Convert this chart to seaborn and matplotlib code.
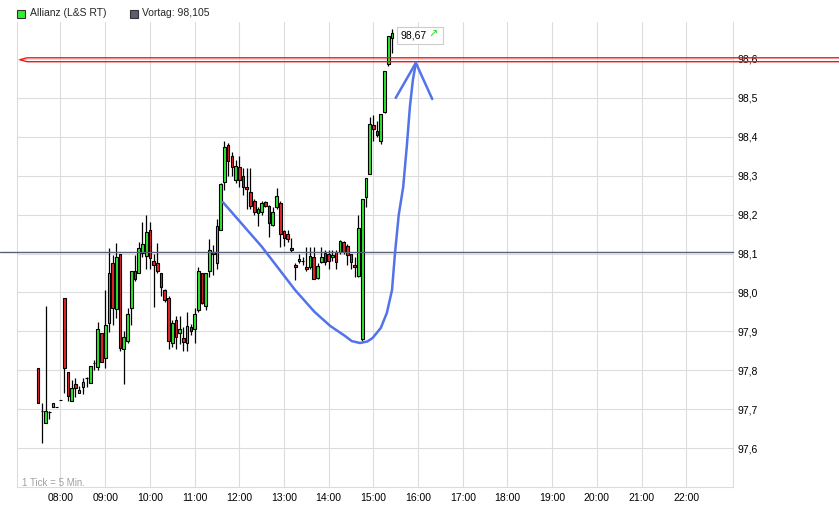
import numpy as np
import pandas as pd
import matplotlib
matplotlib.use("Agg")
import matplotlib.pyplot as plt
import matplotlib.transforms as mtrans
from matplotlib.patches import Rectangle
from matplotlib.ticker import FuncFormatter
import seaborn as sns

# ---- Daten: 5-Minuten-Kerzen Allianz (L&S RT), erste Kerze 07:30 ----
START = "07:30"
OPEN = [97.805, 97.695, 97.664, 97.693, 97.705, 97.705, 97.723, 97.985, 97.795, 97.722,
        97.765, 97.742, 97.758, 97.779, 97.768, 97.818, 97.809, 97.896, 97.832, 97.922,
        98.075, 97.957, 98.099, 97.854, 97.875, 97.959, 98.055, 98.049, 98.102, 98.094,
        98.161, 98.081, 98.075, 98.049, 98.006, 97.985, 97.869, 97.929, 97.895, 97.882,
        97.869, 97.911, 97.905, 97.955, 98.049, 97.965, 98.055, 98.103, 98.075, 98.161,
        98.283, 98.379, 98.351, 98.288, 98.322, 98.298, 98.270, 98.259, 98.236, 98.204,
        98.208, 98.233, 98.221, 98.174, 98.220, 98.231, 98.157, 98.150, 98.114, 98.071,
        98.080, 98.080, 98.065, 98.065, 98.092, 98.037, 98.079, 98.102, 98.100, 98.090,
        98.105, 98.105, 98.130, 98.120, 98.099, 98.071, 98.041, 97.880, 98.245, 98.304,
        98.430, 98.415, 98.388, 98.463, 98.587, 98.653]
HIGH = [97.805, 97.715, 97.965, 97.695, 97.715, 97.705, 97.723, 97.985, 97.795, 97.775,
        97.779, 97.760, 97.780, 97.782, 97.811, 97.826, 97.925, 97.896, 98.007, 98.114,
        98.096, 98.126, 98.099, 97.900, 97.960, 98.055, 98.096, 98.130, 98.182, 98.199,
        98.182, 98.100, 98.128, 98.050, 98.010, 97.990, 97.930, 97.940, 97.940, 97.910,
        97.950, 97.920, 97.960, 98.066, 98.050, 98.050, 98.137, 98.122, 98.188, 98.280,
        98.389, 98.385, 98.360, 98.340, 98.350, 98.320, 98.320, 98.320, 98.240, 98.220,
        98.235, 98.236, 98.225, 98.220, 98.268, 98.235, 98.160, 98.160, 98.140, 98.075,
        98.100, 98.090, 98.118, 98.118, 98.118, 98.075, 98.118, 98.110, 98.110, 98.110,
        98.110, 98.135, 98.132, 98.125, 98.100, 98.090, 98.199, 98.240, 98.294, 98.452,
        98.455, 98.440, 98.458, 98.569, 98.659, 98.677]
LOW = [97.715, 97.612, 97.664, 97.674, 97.705, 97.705, 97.723, 97.741, 97.722, 97.722,
       97.732, 97.742, 97.739, 97.757, 97.768, 97.800, 97.800, 97.822, 97.805, 97.899,
       97.916, 97.934, 97.850, 97.764, 97.870, 97.916, 98.030, 98.049, 98.090, 98.060,
       98.060, 97.963, 98.050, 97.990, 97.975, 97.854, 97.860, 97.855, 97.868, 97.850,
       97.850, 97.890, 97.870, 97.950, 97.970, 97.955, 98.040, 98.045, 98.060, 98.160,
       98.264, 98.300, 98.300, 98.280, 98.270, 98.250, 98.215, 98.215, 98.200, 98.171,
       98.200, 98.220, 98.143, 98.170, 98.215, 98.118, 98.120, 98.130, 98.105, 98.032,
       98.075, 98.070, 98.055, 98.060, 98.034, 98.035, 98.075, 98.070, 98.060, 98.080,
       98.060, 98.100, 98.100, 98.070, 98.060, 98.040, 98.040, 97.875, 98.220, 98.304,
       98.390, 98.400, 98.382, 98.460, 98.583, 98.615]
CLOSE = [97.715, 97.695, 97.695, 97.693, 97.715, 97.705, 97.723, 97.805, 97.733, 97.755,
         97.754, 97.749, 97.770, 97.779, 97.811, 97.818, 97.906, 97.822, 97.916, 98.049,
         97.959, 98.090, 97.858, 97.886, 97.945, 98.055, 98.034, 98.114, 98.125, 98.155,
         98.088, 98.070, 98.055, 98.013, 97.981, 97.875, 97.922, 97.885, 97.905, 97.873,
         97.915, 97.900, 97.945, 98.055, 97.972, 98.049, 98.110, 98.098, 98.171, 98.278,
         98.373, 98.339, 98.322, 98.325, 98.289, 98.272, 98.265, 98.221, 98.208, 98.214,
         98.231, 98.222, 98.178, 98.208, 98.249, 98.149, 98.139, 98.137, 98.108, 98.065,
         98.086, 98.080, 98.060, 98.094, 98.034, 98.068, 98.090, 98.079, 98.080, 98.095,
         98.079, 98.131, 98.105, 98.096, 98.079, 98.065, 98.165, 98.240, 98.294, 98.433,
         98.420, 98.404, 98.458, 98.569, 98.659, 98.666]

VORTAG = 98.105
RESISTANCE = 98.6
HOURS = list(range(8, 23))
PRICE_TICKS = [97.6, 97.7, 97.8, 97.9, 98.0, 98.1, 98.2, 98.3, 98.4, 98.5, 98.6]

# handgezeichnete Markierung (Zeit, Kurs)
CURVE_TIME = ["11:38", "12:30", "13:15", "13:28", "13:41", "14:02", "14:22", "14:31",
              "14:42", "14:52", "14:59", "15:10", "15:18", "15:25", "15:29", "15:34",
              "15:40", "15:45", "15:49", "15:53", "15:57"]
CURVE_PRICE = [98.232, 98.118, 98.006, 97.978, 97.950, 97.914, 97.888, 97.875,
               97.870, 97.874, 97.883, 97.909, 97.947, 98.006, 98.101, 98.199,
               98.271, 98.379, 98.477, 98.546, 98.590]
ARROW_TIME = ["15:30", "15:57", "16:19"]
ARROW_PRICE = [98.500, 98.590, 98.497]

UP = "#2fe82f"
DOWN = "#e5262b"
GRID = "#dcdcdc"
BLUE = "#5273ea"


def to_hours(labels):
    t = pd.to_datetime(labels, format="%H:%M")
    return t.hour + t.minute / 60


df = pd.DataFrame({"open": OPEN, "high": HIGH, "low": LOW, "close": CLOSE})
times = pd.date_range("2000-01-01 " + START, periods=len(df), freq="5min")
df["hour"] = times.hour + times.minute / 60
df["up"] = df["close"] >= df["open"]

sns.set_theme(style="white")
plt.rcParams["font.family"] = ["Liberation Sans", "DejaVu Sans"]

W, H = 839, 512
fig = plt.figure(figsize=(W / 100, H / 100), dpi=100)
ax = fig.add_axes([17 / W, 25 / H, 716 / W, 465 / H])

ax.set_xlim(7.027, 23.045)
ax.set_ylim(97.5, 98.695)

# Gitter
ax.set_xticks(HOURS)
ax.set_xticklabels([f"{h:02d}:00" for h in HOURS], fontsize=7.5,
                   family=["Liberation Sans Narrow", "Liberation Sans"])
ax.set_yticks(PRICE_TICKS)
ax.yaxis.tick_right()
ax.yaxis.set_major_formatter(FuncFormatter(lambda v, p: f"{v:.1f}".replace(".", ",")))
ax.tick_params(axis="y", length=0, pad=3, labelsize=7.5, labelcolor="black")
ax.tick_params(axis="x", length=0, pad=4, labelcolor="black")
ax.grid(True, color=GRID, lw=0.8)
ax.set_axisbelow(True)
for side in ["left", "right", "bottom"]:
    ax.spines[side].set_color(GRID)
    ax.spines[side].set_linewidth(0.8)
ax.spines["top"].set_visible(False)

# Kerzen
bw = 0.72 * 5 / 60
ax.vlines(df["hour"], df["low"], df["high"], color="black", lw=0.9, zorder=3)
ax.bar(df["hour"], df["close"] - df["open"], bottom=df["open"], width=bw,
       color=np.where(df["up"], UP, DOWN), edgecolor="black", linewidth=0.8, zorder=4)

# Linien
trans = mtrans.blended_transform_factory(ax.transAxes, ax.transData)
ax.plot([-0.024, 1.0], [VORTAG, VORTAG], transform=trans, color="#5b6079",
        lw=1.0, clip_on=False, zorder=5)
xr = 1.2
ax.plot([xr, 0.014, 0.004, 0.014, xr],
        [RESISTANCE + 0.003, RESISTANCE + 0.003, RESISTANCE - 0.002,
         RESISTANCE - 0.007, RESISTANCE - 0.007],
        transform=trans, color="#f01818", lw=1.0, clip_on=False, zorder=5)

# Markierung
sns.lineplot(x=to_hours(CURVE_TIME), y=CURVE_PRICE, sort=False, estimator=None,
             color=BLUE, lw=1.8, ax=ax, zorder=6)
sns.lineplot(x=to_hours(ARROW_TIME), y=ARROW_PRICE, sort=False, estimator=None,
             color=BLUE, lw=1.8, ax=ax, zorder=6)
ax.set_xlabel("")
ax.set_ylabel("")

# letzter Kurs
last = df["close"].iloc[-1]
ax.add_patch(Rectangle((15.52, 98.638), 1.04, 0.045, facecolor="white",
                       edgecolor="#cccccc", lw=0.8, zorder=7, clip_on=False))
ax.text(15.6, 98.661, f"{last:.2f}".replace(".", ","), fontsize=7.5, va="center",
        ha="left", color="black", zorder=8)
ax.text(16.24, 98.661, "\u2197", fontsize=8, va="center", ha="left",
        color="#22dd22", zorder=8, family=["DejaVu Sans"])

# Legende
fig.add_artist(Rectangle((17 / W, 1 - 17.5 / H), 8 / W, 7.5 / H, transform=fig.transFigure,
                         facecolor="#33ee33", edgecolor="#333333", lw=0.8))
fig.text(30 / W, 1 - 13 / H, "Allianz (L&S RT)", fontsize=7.5, va="center", ha="left")
fig.add_artist(Rectangle((130 / W, 1 - 17.5 / H), 8 / W, 7.5 / H, transform=fig.transFigure,
                         facecolor="#5b5e72", edgecolor="#333333", lw=0.8))
fig.text(142 / W, 1 - 13 / H, "Vortag: 98,105", fontsize=7.5, va="center", ha="left")

fig.text(22 / W, 1 - 483 / H, "1 Tick = 5 Min.", fontsize=7, va="center", ha="left",
         color="#a0a0a0", family=["Liberation Sans Narrow", "Liberation Sans"])

fig.savefig("out.png", dpi=100)
